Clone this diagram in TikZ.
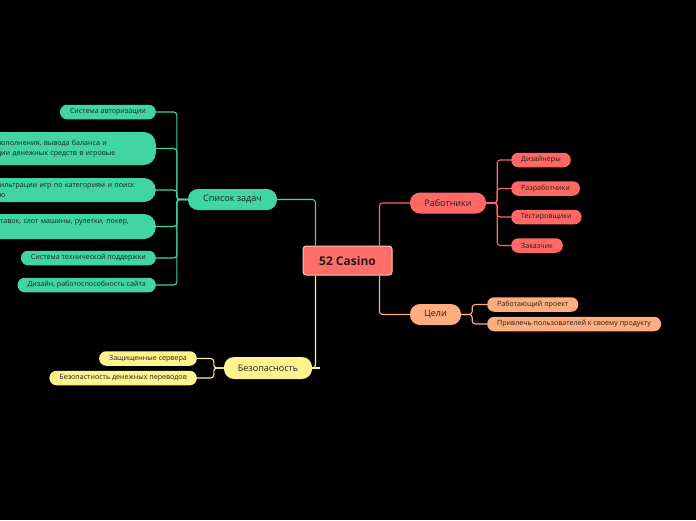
\documentclass[tikz,border=0pt]{standalone}
\usepackage{fontspec}
\setmainfont{Open Sans}
\usepackage{tikz}
\usetikzlibrary{positioning,calc}
\definecolor{rootfill}{RGB}{255,110,106}
\definecolor{rootrule}{RGB}{255,196,190}
\definecolor{taskgreen}{RGB}{64,213,163}
\definecolor{staffred}{RGB}{255,104,100}
\definecolor{goalorange}{RGB}{255,173,126}
\definecolor{safeyellow}{RGB}{255,243,142}
\definecolor{inktext}{RGB}{30,30,30}
\tikzset{
  rootbox/.style={rectangle,rounded corners=3pt,draw=rootrule,line width=1pt,fill=rootfill,text=inktext,minimum width=89pt,minimum height=29pt,inner sep=0pt,font=\fontsize{12}{14}\selectfont\bfseries},
  branch/.style={rectangle,rounded corners=10pt,text=inktext,minimum height=21pt,inner sep=0pt,font=\fontsize{9}{10}\selectfont},
  leaf/.style={rectangle,rounded corners=7pt,text=inktext,minimum height=14.5pt,inner ysep=0pt,inner xsep=10pt,font=\fontsize{7.1}{10}\selectfont},
  wideleaf/.style={leaf,rounded corners=12pt,align=left,text width=139pt,inner xsep=20pt},
  link/.style={line width=1.1pt,rounded corners=3pt}
}
\begin{document}
\begin{tikzpicture}[x=1pt,y=-1pt]
  \fill[black] (0,0) rectangle (696,520);
  \useasboundingbox (0,0) rectangle (696,520);
  \clip (0,0) rectangle (696,520);

  \node[rootbox] (root) at (347.5,260.5) {52 Casino};

  \node[branch,fill=taskgreen,minimum width=89pt] (tasks) at (232.5,199.5) {Список задач};
  \node[branch,fill=staffred,minimum width=76pt] (staff) at (448,203) {Работники};
  \node[branch,fill=goalorange,minimum width=51pt] (goals) at (435.5,314.5) {Цели};
  \node[branch,fill=safeyellow,minimum width=88pt,minimum height=22pt] (safety) at (268,368) {Безопасность};

  \node[leaf,fill=taskgreen,anchor=east] (auth) at (156,112) {Система авторизации};
  \node[wideleaf,fill=taskgreen,anchor=east,minimum height=33pt] (money) at (156,148.5) {пополнения, вывода баланса и\\ции денежных средств в игровые};
  \node[wideleaf,fill=taskgreen,anchor=east,minimum height=24pt,text width=144pt,inner xsep=17pt] (filter) at (156,190) {фильтрации игр по категориям и поиск\\ию};
  \node[wideleaf,fill=taskgreen,anchor=east,minimum height=25pt] (games) at (156,226.5) {ставок, слот машины, рулетки, покер,\\\mbox{}};
  \node[leaf,fill=taskgreen,anchor=east] (support) at (156,258) {Система технической поддержки};
  \node[leaf,fill=taskgreen,anchor=east] (design) at (156,285) {Дизайн, работоспособность сайта};

  \node[leaf,fill=staffred,anchor=west] (designers) at (511,160) {Дизайнеры};
  \node[leaf,fill=staffred,anchor=west] (devs) at (511,188.5) {Разработчики};
  \node[leaf,fill=staffred,anchor=west] (testers) at (511,217) {Тестировщики};
  \node[leaf,fill=staffred,anchor=west] (client) at (511,245.5) {Заказчик};

  \node[leaf,fill=goalorange,anchor=west] (project) at (487,304.5) {Работающий проект};
  \node[leaf,fill=goalorange,anchor=west] (users) at (487,324) {Привлечь пользователей к своему продукту};

  \node[leaf,fill=safeyellow,anchor=east] (servers) at (197,358.5) {Защищенные сервера};
  \node[leaf,fill=safeyellow,anchor=east] (transfers) at (197,378) {Безопастность денежных переводов};

  \draw[link,taskgreen] ($(root.north west)+(13,0)$) |- (tasks.east);
  \draw[link,staffred] ($(root.north east)+(-13,0)$) |- (staff.west);
  \draw[link,goalorange] ($(root.south east)+(-13,0)$) |- (goals.west);
  \draw[link,safeyellow] ($(root.south west)+(13,0)$) |- (safety.east);
  \draw[link,safeyellow] (safety.east) -- ++(8,0);

  \foreach \leafname in {auth,money,filter,games,support,design}
    \draw[link,taskgreen] (tasks.west) -- ++(-11,0) |- (\leafname.east);
  \foreach \leafname in {designers,devs,testers,client}
    \draw[link,staffred] (staff.east) -- ++(11,0) |- (\leafname.west);
  \foreach \leafname in {project,users}
    \draw[link,goalorange] (goals.east) -- ++(11,0) |- (\leafname.west);
  \foreach \leafname in {servers,transfers}
    \draw[link,safeyellow] (safety.west) -- ++(-10,0) |- (\leafname.east);
\end{tikzpicture}
\end{document}
